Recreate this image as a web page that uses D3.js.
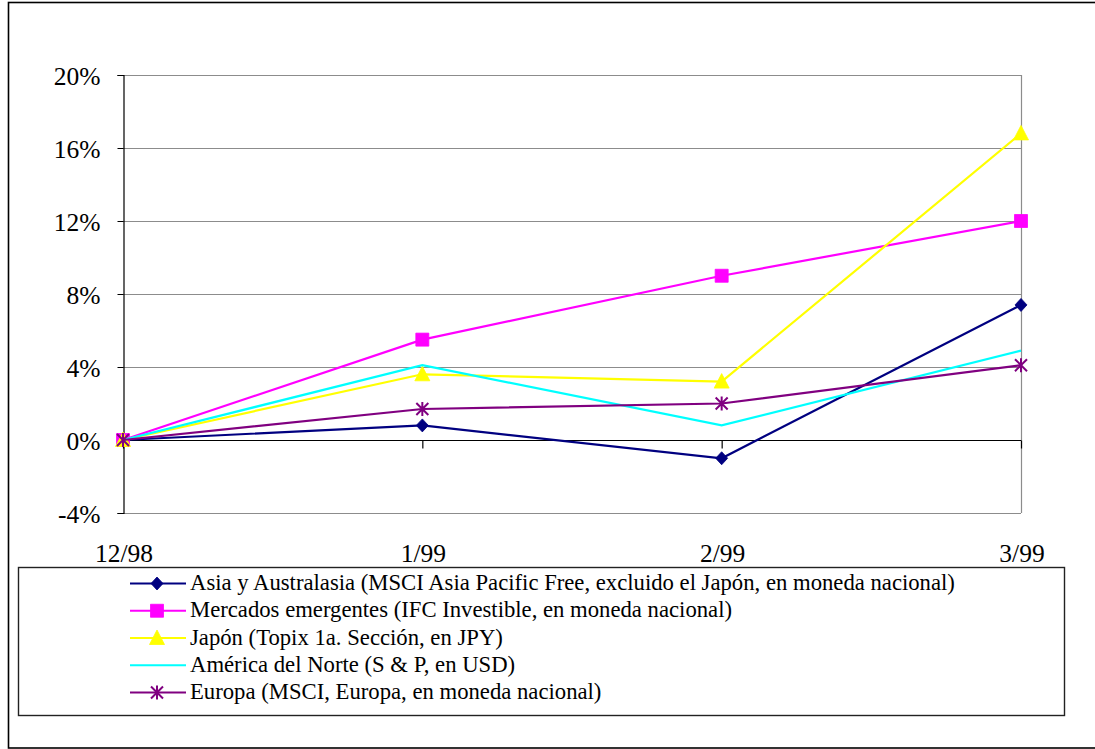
<!DOCTYPE html>
<html>
<head>
<meta charset="utf-8">
<script src="https://cdn.jsdelivr.net/npm/d3@7"></script>
<style>
  html, body { margin: 0; padding: 0; background: #fff; }
  svg { display: block; }
  text { font-family: "Liberation Serif", "Times New Roman", serif; fill: #000; }
</style>
</head>
<body>
<svg id="chart" width="1095" height="749"></svg>
<script>
// Monthly cumulative returns (%), December 1998 = 0
const categories = ["12/98", "1/99", "2/99", "3/99"];
const yTickValues = [-4, 0, 4, 8, 12, 16, 20];

const asiaValues     = [0, 0.8, -1.0, 7.4];
const emergingValues = [0, 5.5, 9.0, 12.0];
const japanValues    = [0, 3.6, 3.2, 16.8];
const northAmValues  = [0, 4.1, 0.8, 4.9];
const europeValues   = [0, 1.7, 2.0, 4.1];

const seriesNames = [
  "Asia y Australasia (MSCI Asia Pacific Free, excluido el Japón, en moneda nacional)",
  "Mercados emergentes (IFC Investible, en moneda nacional)",
  "Japón (Topix 1a. Sección, en JPY)",
  "América del Norte (S & P, en USD)",
  "Europa (MSCI, Europa, en moneda nacional)"
];

const series = [
  { name: seriesNames[0], values: asiaValues,     color: "#000080", marker: "diamond" },
  { name: seriesNames[1], values: emergingValues, color: "#FF00FF", marker: "square" },
  { name: seriesNames[2], values: japanValues,    color: "#FFFF00", marker: "triangle" },
  { name: seriesNames[3], values: northAmValues,  color: "#00FFFF", marker: "none" },
  { name: seriesNames[4], values: europeValues,   color: "#800080", marker: "asterisk" }
];

const serif = '"Liberation Serif", "Times New Roman", serif';
const svg = d3.select("#chart");

// Outer frame
svg.append("rect")
  .attr("x", 8.5).attr("y", 2.5)
  .attr("width", 1100).attr("height", 745.5)
  .attr("fill", "none").attr("stroke", "#000").attr("stroke-width", 1.6);

// Plot area
const plot = { left: 123, right: 1021, top: 75, bottom: 513 };

const x = d3.scalePoint().domain(categories).range([plot.left, plot.right]);
const y = d3.scaleLinear().domain([-4, 20]).range([plot.bottom, plot.top]);

// Horizontal gridlines
svg.append("g")
  .selectAll("line")
  .data(yTickValues.filter(v => v !== 0))
  .join("line")
  .attr("x1", plot.left).attr("x2", plot.right)
  .attr("y1", d => Math.round(y(d)) + 0.5).attr("y2", d => Math.round(y(d)) + 0.5)
  .attr("stroke", "#8c8c8c").attr("stroke-width", 1);

// Right edge of plot area
svg.append("line")
  .attr("x1", plot.right + 0.5).attr("x2", plot.right + 0.5)
  .attr("y1", plot.top).attr("y2", plot.bottom)
  .attr("stroke", "#8c8c8c").attr("stroke-width", 1.2);

// Y axis
const yAxis = d3.axisLeft(y)
  .tickValues(yTickValues)
  .tickSize(6)
  .tickPadding(17)
  .tickFormat(d => d + "%");

const gy = svg.append("g")
  .attr("transform", `translate(${plot.left + 0.5},0)`)
  .call(yAxis)
  .attr("font-family", null);
gy.select(".domain").attr("stroke", "#000").attr("stroke-width", 1.2);
gy.selectAll(".tick line").attr("stroke", "#000");
gy.selectAll(".tick text")
  .style("font-family", serif)
  .style("font-size", "25.5px")
  .attr("fill", "#000")
  .attr("dy", "0.36em");

// X axis along 0%
const xAxis = d3.axisBottom(x).tickSize(8).tickFormat("");
const gx = svg.append("g")
  .attr("transform", `translate(0,${Math.round(y(0)) + 0.5})`)
  .call(xAxis);
gx.select(".domain").attr("stroke", "#000").attr("stroke-width", 1.2)
  .attr("d", `M${plot.left},0H${plot.right}`);
gx.selectAll(".tick line").attr("stroke", "#000").attr("stroke-width", 1.2);

// Category labels below the plot
svg.append("g")
  .selectAll("text")
  .data(categories)
  .join("text")
  .attr("x", d => x(d) + 1)
  .attr("y", 562)
  .attr("text-anchor", "middle")
  .style("font-family", serif)
  .style("font-size", "25.5px")
  .text(d => d);

// Marker shapes
function markerPath(type) {
  switch (type) {
    case "diamond":  return "M0,-6.5L6,0L0,6.5L-6,0Z";
    case "square":   return "M-6.5,-6.5H6.5V6.5H-6.5Z";
    case "triangle": return "M0,-8L7.5,6.5H-7.5Z";
    case "asterisk": return "M0,-7V7M-6,-6L6,6M-6,6L6,-6";
    default: return "";
  }
}

function drawMarker(g, type, color) {
  if (type === "none") return;
  const p = g.append("path").attr("d", markerPath(type));
  if (type === "asterisk") {
    p.attr("fill", "none").attr("stroke", color).attr("stroke-width", 2);
  } else {
    p.attr("fill", color).attr("stroke", color).attr("stroke-width", 0.8);
  }
}

const line = d3.line()
  .x((d, i) => x(categories[i]))
  .y(d => y(d));

// Series lines and markers
series.forEach(s => {
  const g = svg.append("g");
  g.append("path")
    .attr("d", line(s.values))
    .attr("fill", "none")
    .attr("stroke", s.color)
    .attr("stroke-width", 2.2)
    .attr("stroke-linejoin", "miter");
  s.values.forEach((v, i) => {
    const m = g.append("g").attr("transform", `translate(${x(categories[i])},${y(v)})`);
    drawMarker(m, s.marker, s.color);
  });
});

// Legend
const legend = svg.append("g");
legend.append("rect")
  .attr("x", 18.5).attr("y", 567.5)
  .attr("width", 1046).attr("height", 148)
  .attr("fill", "#fff").attr("stroke", "#222").attr("stroke-width", 1.4);

const rowY = d3.scalePoint().domain(d3.range(series.length)).range([583.5, 692.5]);

series.forEach((s, i) => {
  const row = legend.append("g").attr("transform", `translate(0,${rowY(i)})`);
  row.append("line")
    .attr("x1", 130).attr("x2", 186)
    .attr("stroke", s.color).attr("stroke-width", 2.2);
  const m = row.append("g").attr("transform", "translate(157,0)");
  drawMarker(m, s.marker, s.color);
  row.append("text")
    .attr("x", 190).attr("y", 6.5)
    .style("font-family", serif)
    .style("font-size", "22.7px")
    .text(s.name);
});
</script>
</body>
</html>
